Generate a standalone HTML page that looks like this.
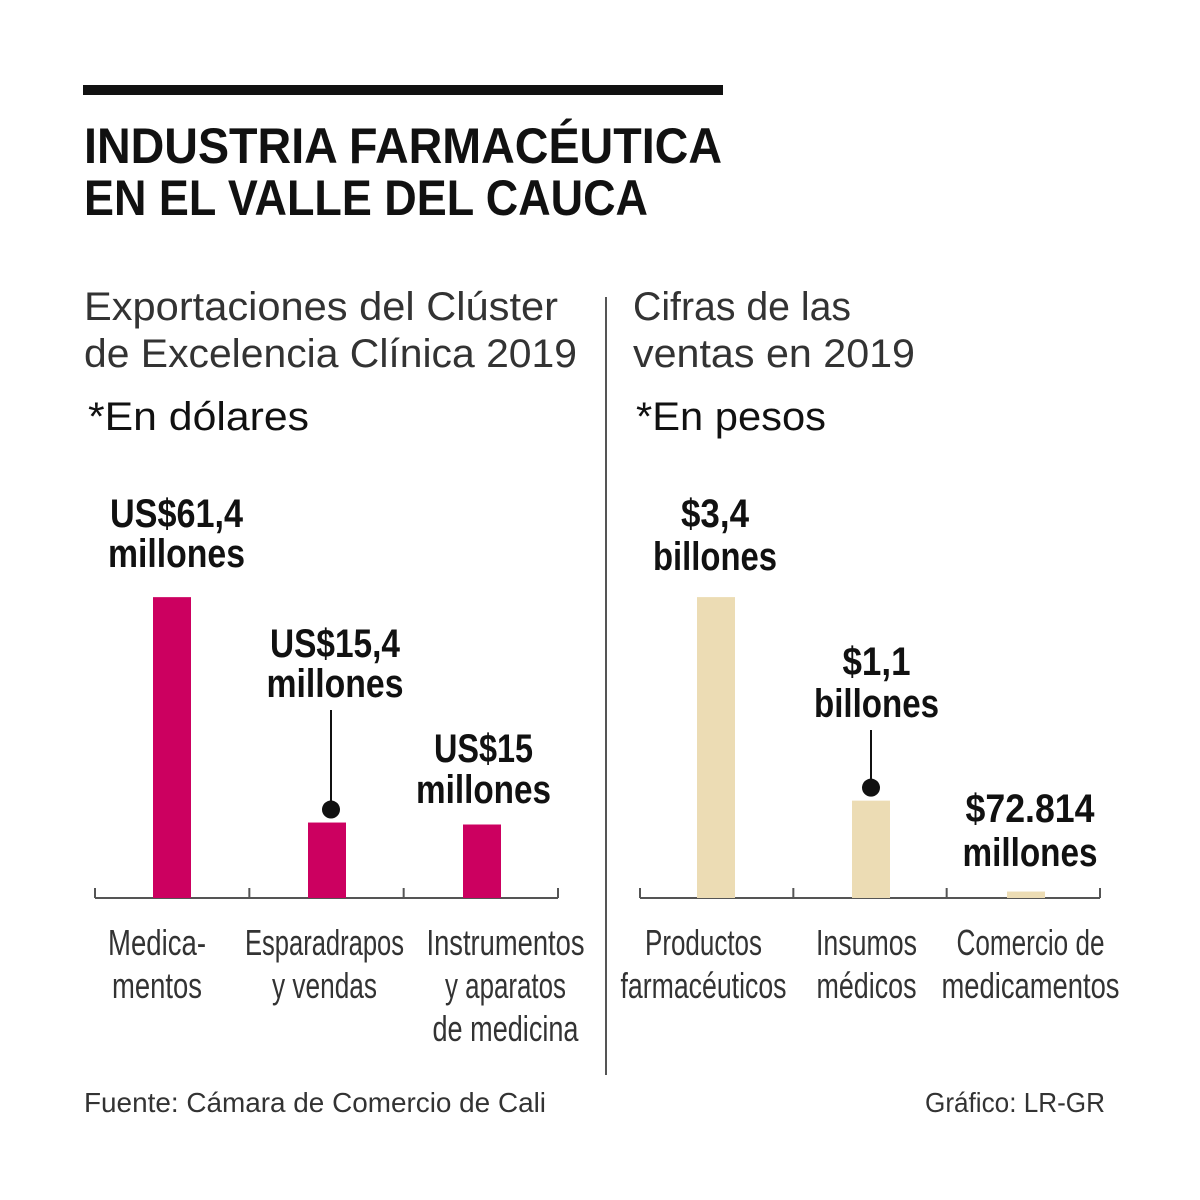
<!DOCTYPE html>
<html><head><meta charset="utf-8"><style>
html,body{margin:0;padding:0;background:#fff;}
svg{display:block;font-family:"Liberation Sans Narrow","Liberation Sans",sans-serif;}
</style></head><body>
<svg id="chart" width="1200" height="1200" viewBox="0 0 1200 1200" xmlns="http://www.w3.org/2000/svg">
<rect x="83" y="85" width="640" height="10" fill="#111"/>
<text x="84" y="163" font-family="Liberation Sans, sans-serif" font-weight="bold" font-size="50" textLength="638" lengthAdjust="spacingAndGlyphs" fill="#111">INDUSTRIA FARMACÉUTICA</text>
<text x="84" y="215" font-family="Liberation Sans, sans-serif" font-weight="bold" font-size="50" textLength="564" lengthAdjust="spacingAndGlyphs" fill="#111">EN EL VALLE DEL CAUCA</text>
<g font-family="Liberation Sans, sans-serif" fill="#333" font-size="40">
<text x="84" y="320" textLength="474" lengthAdjust="spacingAndGlyphs">Exportaciones del Clúster</text>
<text x="84" y="367" textLength="493" lengthAdjust="spacingAndGlyphs">de Excelencia Clínica 2019</text>
<text x="88" y="430" textLength="221" lengthAdjust="spacingAndGlyphs" fill="#111">*En dólares</text>
<text x="633" y="320" textLength="218" lengthAdjust="spacingAndGlyphs">Cifras de las</text>
<text x="633" y="367" textLength="282" lengthAdjust="spacingAndGlyphs">ventas en 2019</text>
<text x="636" y="430" textLength="190" lengthAdjust="spacingAndGlyphs" fill="#111">*En pesos</text>
</g>
<line x1="606" y1="297" x2="606" y2="1075" stroke="#555" stroke-width="2"/>
<g font-family="Liberation Sans, sans-serif" font-size="28" fill="#333">
<text x="84" y="1112" textLength="462" lengthAdjust="spacingAndGlyphs">Fuente: Cámara de Comercio de Cali</text>
<text x="925" y="1112" textLength="180" lengthAdjust="spacingAndGlyphs">Gráfico: LR-GR</text>
</g>
<g id="plots"></g>
</svg>
<script>
const leftCategories = [["Medica-","mentos"],["Esparadrapos","y vendas"],["Instrumentos","y aparatos","de medicina"]];
const leftValues = [61.4, 15.4, 15];
const leftValueLabels = [["US$61,4","millones"],["US$15,4","millones"],["US$15","millones"]];
const rightCategories = [["Productos","farmacéuticos"],["Insumos","médicos"],["Comercio de","medicamentos"]];
const rightValues = [3.4, 1.1, 0.072814];
const rightValueLabels = [["$3,4","billones"],["$1,1","billones"],["$72.814","millones"]];

// layout (not data): label centers & widths
const leftLayout = {
  barCenters:[172,327,482],
  valCenters:[176.5,335,483.5], valWidths:[[133,137],[130,137],[99,135]], valBase:[527,657,762], valGap:[40,40,41],
  catCenters:[157,324.5,505.5], catWidths:[[98,90],[159,105],[158,121,146]],
  leaderX:331, leaderTop:710
};
const rightLayout = {
  barCenters:[716,871,1026],
  valCenters:[715,876.5,1030], valWidths:[[68,124],[68,125],[129,135]], valBase:[527,675,822], valGap:[43,42,44],
  catCenters:[703.5,866.5,1030.5], catWidths:[[117,166],[101,100],[148,178]],
  leaderX:871, leaderTop:730
};

const NS="http://www.w3.org/2000/svg";
const g=document.getElementById('plots');
function mk(tag,attrs){const e=document.createElementNS(NS,tag);for(const k in attrs)e.setAttribute(k,attrs[k]);g.appendChild(e);return e;}

function drawPanel(cfg,L){
  const base=898;
  const y=v=>base-v*cfg.scale;
  const step=(cfg.x1-cfg.x0)/cfg.values.length;
  const axis=mk('line',{x1:cfg.x0,y1:base,x2:cfg.x1,y2:base,stroke:'#555','stroke-width':2});
  
  
  for(let i=0;i<=cfg.values.length;i++){
    const tx=cfg.x0+i*step;
    const t=mk('line',{x1:tx,y1:base-10,x2:tx,y2:base,stroke:'#555','stroke-width':2});
    
    
  }
  cfg.values.forEach((v,i)=>{
    const cx=L.barCenters[i];
    const top=y(v);
    const b=mk('rect',{x:cx-19,y:top,width:38,height:base-top,fill:cfg.color});
    
    
    const lab=cfg.labels[i];
    const ly=L.valBase[i];
    lab.forEach((s,j)=>{
      const t=mk('text',{x:L.valCenters[i],y:ly+j*L.valGap[i],'text-anchor':'middle','font-weight':'bold','font-size':40,fill:'#111',textLength:L.valWidths[i][j],lengthAdjust:'spacingAndGlyphs'});
      t.textContent=s;
      
      
    });
    if(i===1){
      const ln=mk('line',{x1:L.leaderX,y1:L.leaderTop,x2:L.leaderX,y2:top-14,stroke:'#111','stroke-width':2});
      
      
      const d=mk('circle',{cx:L.leaderX,cy:top-13,r:9,fill:'#111'});
      
      
    }
    cfg.categories[i].forEach((s,j)=>{
      const c=mk('text',{x:L.catCenters[i],y:955+j*43,'text-anchor':'middle','font-size':36,fill:'#333',textLength:L.catWidths[i][j],lengthAdjust:'spacingAndGlyphs'});
      c.textContent=s;
      
      
    });
  });
}
drawPanel({name:'left',x0:95,x1:558,scale:4.9,values:leftValues,labels:leftValueLabels,categories:leftCategories,color:'#cc0060'},leftLayout);
drawPanel({name:'right',x0:640,x1:1100,scale:88.5,values:rightValues,labels:rightValueLabels,categories:rightCategories,color:'#ecdcb4'},rightLayout);
</script>
</body></html>
